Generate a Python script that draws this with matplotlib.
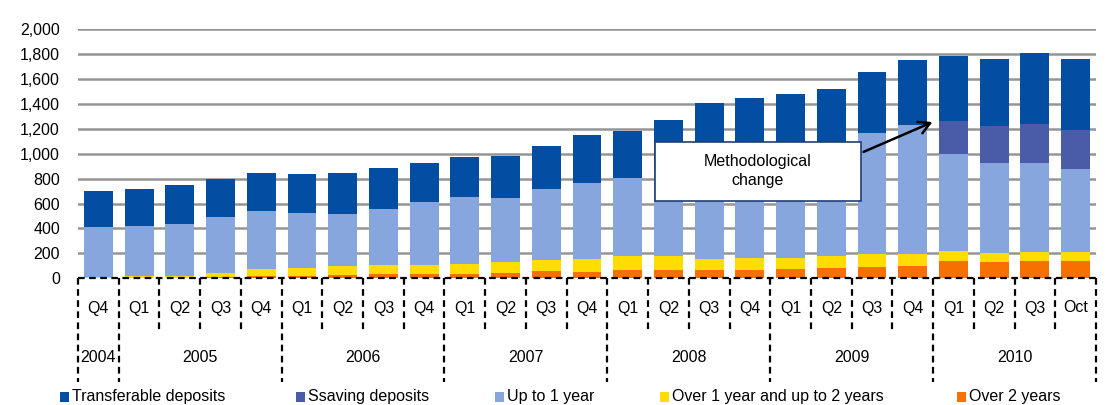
import matplotlib
matplotlib.use("Agg")
import matplotlib.pyplot as plt
import matplotlib.transforms as mtransforms
from matplotlib.patches import Rectangle
import numpy as np

plt.rcParams['font.family'] = ['Liberation Sans', 'DejaVu Sans']

quarters = ["Q4",
            "Q1", "Q2", "Q3", "Q4",
            "Q1", "Q2", "Q3", "Q4",
            "Q1", "Q2", "Q3", "Q4",
            "Q1", "Q2", "Q3", "Q4",
            "Q1", "Q2", "Q3", "Q4",
            "Q1", "Q2", "Q3", "Oct"]
years = ["2004", "2005", "2006", "2007", "2008", "2009", "2010"]
year_counts = [1, 4, 4, 4, 4, 4, 4]

over_2y = [5, 5, 5, 13, 21, 18, 29, 37, 37, 37, 45, 61, 53, 69, 69, 69, 69, 77, 85, 93, 101, 141, 133, 141, 141]
over_1y_to_2y = [7, 16, 16, 30, 54, 67, 72, 70, 70, 80, 88, 88, 104, 112, 112, 88, 96, 88, 96, 105, 97, 81, 73, 73, 73]
up_to_1y = [400, 399, 415, 449, 465, 439, 415, 449, 506, 536, 512, 568, 608, 624, 689, 833, 845, 865, 879, 969, 1033, 779, 722, 714, 666]
saving = [0] * 21 + [262, 295, 311, 311]
transferable = [289, 297, 313, 305, 306, 314, 330, 330, 313, 321, 337, 345, 386, 378, 401, 418, 438, 450, 460, 490, 522, 522, 538, 570, 570]

series = [
    ("Over 2 years", over_2y, "#F77000"),
    ("Over 1 year and up to 2 years", over_1y_to_2y, "#FFDD00"),
    ("Up to 1 year", up_to_1y, "#88A6DE"),
    ("Ssaving deposits", saving, "#4A5BA8"),
    ("Transferable deposits", transferable, "#034EA2"),
]
legend_order = ["Transferable deposits", "Ssaving deposits", "Up to 1 year",
                "Over 1 year and up to 2 years", "Over 2 years"]

W, H = 1113, 405
fig = plt.figure(figsize=(W / 100, H / 100), dpi=100)
ax_left, ax_right, ax_top, ax_bot = 78, 1096, 29, 278.3
ax = fig.add_axes([ax_left / W, 1 - ax_bot / H, (ax_right - ax_left) / W, (ax_bot - ax_top) / H])

x = np.arange(len(quarters))
bottom = np.zeros(len(x))
for name, vals, col in series:
    v = np.array(vals, dtype=float)
    ax.bar(x, v, bottom=bottom, width=0.71, color=col, zorder=3, linewidth=0)
    bottom += v

ax.set_xlim(-0.5, len(x) - 0.5)
ax.set_ylim(0, 2000)
ax.set_yticks(np.arange(0, 2001, 200))
ax.set_yticklabels([f"{v:,}" for v in range(0, 2001, 200)], fontsize=11.5)
ax.tick_params(axis='y', length=0, pad=13)
ax.set_xticks([])
for s in ax.spines.values():
    s.set_visible(False)
for yv in range(200, 2001, 200):
    ax.axhline(yv, color='#959595', lw=1.8, zorder=1)

# dashed category axis
trans = mtransforms.blended_transform_factory(ax.transData, ax.transAxes)
ax_h = ax_bot - ax_top
def yfrac(py):
    return (ax_bot - py) / ax_h

dash = dict(color='black', lw=1.6, linestyle=(0, (3, 2)), clip_on=False, zorder=5)
ax.plot([-0.5, len(x) - 0.5], [0, 0], transform=trans, **dash)

year_bounds = np.cumsum([0] + year_counts) - 0.5
for b in np.arange(-0.5, len(x)):
    if np.any(np.isclose(year_bounds, b)):
        ax.plot([b, b], [0, yfrac(382)], transform=trans, **dash)
    else:
        ax.plot([b, b], [0, yfrac(330)], transform=trans, **dash)

for xi, q in zip(x, quarters):
    ax.text(xi, yfrac(308), q, transform=trans, ha='center', va='center', fontsize=11.5)
for i, yr in enumerate(years):
    cx = (year_bounds[i] + year_bounds[i + 1]) / 2
    ax.text(cx, yfrac(358), yr, transform=trans, ha='center', va='center', fontsize=11.5)

# annotation box and arrow
def axfx(px):
    return (px - ax_left) / (ax_right - ax_left)
box = Rectangle((axfx(655), yfrac(201)), axfx(861) - axfx(655), yfrac(142) - yfrac(201),
                transform=ax.transAxes, facecolor='white', edgecolor='#1F3F73', lw=1.2, zorder=6)
ax.add_patch(box)
ax.text(axfx(758), yfrac(171), "Methodological\nchange", transform=ax.transAxes,
        ha='center', va='center', fontsize=11.5, zorder=7, linespacing=1.4)
ax.annotate("", xy=(axfx(935), yfrac(121)), xytext=(axfx(861), yfrac(153)),
            xycoords=ax.transAxes, textcoords=ax.transAxes,
            arrowprops=dict(arrowstyle='->,head_length=0.8,head_width=0.45', color='black', lw=1.8),
            zorder=7)

# legend
colors = {n: c for n, _, c in series}
leg_x = [60, 296, 495, 660, 957]
leg_y = 397
for lx, name in zip(leg_x, legend_order):
    fig.patches.append(Rectangle((lx / W, 1 - (leg_y + 5) / H), 9 / W, 10 / H,
                                 transform=fig.transFigure, facecolor=colors[name], edgecolor='none'))
    fig.text((lx + 12) / W, 1 - leg_y / H, name, ha='left', va='center', fontsize=11.5)

fig.savefig("out.png", dpi=100)
